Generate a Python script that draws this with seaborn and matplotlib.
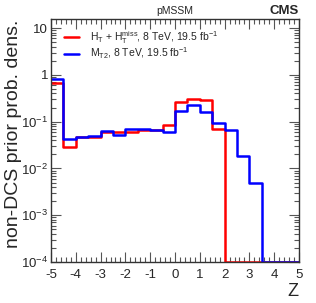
import numpy as np
import pandas as pd
import matplotlib
matplotlib.use("Agg")
import matplotlib.pyplot as plt
import seaborn as sns
from matplotlib.ticker import FixedLocator, FixedFormatter, MultipleLocator, LogLocator, NullFormatter

bin_edges = np.arange(-5.0, 5.01, 0.5)
bin_centers = (bin_edges[:-1] + bin_edges[1:]) / 2

red_values = [0.66, 0.029, 0.046, 0.048, 0.059, 0.061, 0.059, 0.065, 0.067, 0.083,
              0.26, 0.30, 0.29, 0.069, 0, 0, 0, 0, 0, 0]
blue_values = [0.82, 0.043, 0.048, 0.050, 0.063, 0.051, 0.069, 0.071, 0.067, 0.061,
               0.17, 0.23, 0.157, 0.093, 0.067, 0.018, 0.0049, 0, 0, 0]

red_label = r"H$_{\mathregular{T}}$ + H$_{\mathregular{T}}^{\mathregular{miss}}$, 8 TeV, 19.5 fb$^{\mathregular{-1}}$"
blue_label = r"M$_{\mathregular{T2}}$, 8 TeV, 19.5 fb$^{\mathregular{-1}}$"

ytick_vals = [1e-4, 1e-3, 1e-2, 1e-1, 1, 10]
ytick_labels = [r"10$^{\mathregular{-4}}$", r"10$^{\mathregular{-3}}$", r"10$^{\mathregular{-2}}$",
                r"10$^{\mathregular{-1}}$", "1", "10"]
xtick_vals = list(range(-5, 6))
xtick_labels = [str(v) for v in xtick_vals]

sns.set_style("ticks")
plt.rcParams['font.family'] = ['Liberation Sans', 'DejaVu Sans']
plt.rcParams['mathtext.fontset'] = 'custom'
plt.rcParams['mathtext.rm'] = 'Liberation Sans'
plt.rcParams['mathtext.it'] = 'Liberation Sans:italic'
plt.rcParams['mathtext.bf'] = 'Liberation Sans:bold'

ymin, ymax = 1e-4, 15.6

df = pd.DataFrame({
    "z": np.concatenate([bin_centers, bin_centers]),
    "w": np.clip(np.concatenate([red_values, blue_values]), ymin, None),
    "series": [red_label] * len(bin_centers) + [blue_label] * len(bin_centers),
})

fig = plt.figure(figsize=(3.16, 3.03), dpi=100)
ax = fig.add_axes([51 / 316, 1 - 262 / 303, 248 / 316, 243 / 303])

for lab, col in [(red_label, "#ff0000"), (blue_label, "#0000ff")]:
    sub = df[df.series == lab]
    sns.histplot(data=sub, x="z", weights="w", binwidth=0.5, binrange=(-5, 5),
                 element="step", fill=False, color=col, linewidth=1.8, ax=ax, label=lab)

ax.set_yscale("log")
ax.set_xlim(-5, 5)
ax.set_ylim(ymin, ymax)

ax.xaxis.set_major_locator(FixedLocator(xtick_vals))
ax.xaxis.set_major_formatter(FixedFormatter(xtick_labels))
ax.xaxis.set_minor_locator(MultipleLocator(0.2))
ax.yaxis.set_major_locator(FixedLocator(ytick_vals))
ax.yaxis.set_major_formatter(FixedFormatter(ytick_labels))
ax.yaxis.set_minor_locator(LogLocator(base=10, subs=np.arange(2, 10)))
ax.yaxis.set_minor_formatter(NullFormatter())

ax.tick_params(axis="both", which="both", direction="in", top=True, right=True,
               color="#555555", labelsize=9.5)
ax.tick_params(axis="x", which="major", length=7, width=0.8, pad=5)
ax.tick_params(axis="x", which="minor", length=3.5, width=0.8)
ax.tick_params(axis="y", which="major", length=7, width=0.8, pad=2)
ax.tick_params(axis="y", which="minor", length=3.5, width=0.8)
for s in ax.spines.values():
    s.set_color("#333333")
    s.set_linewidth(1.0)

ax.set_xlabel("")
ax.set_ylabel("")
fig.text(14 / 316, 1 - 134 / 303, "non-DCS prior prob. dens.", rotation=90,
         ha="center", va="center", fontsize=14)
fig.text(299 / 316, 1 - 291 / 303, "Z", ha="right", va="center", fontsize=13)
fig.text(175 / 316, 1 - 11 / 303, "pMSSM", ha="center", va="center", fontsize=7.5)
fig.text(299 / 316, 1 - 11 / 303, "CMS", ha="right", va="center", fontsize=9.5,
         fontweight="bold")

ax.legend(loc="upper left", bbox_to_anchor=(0.035, 0.975), frameon=False,
          fontsize=7.5, handlelength=1.5, handletextpad=1.0, labelspacing=0.0,
          borderaxespad=0)

fig.savefig("out.png", dpi=100)
